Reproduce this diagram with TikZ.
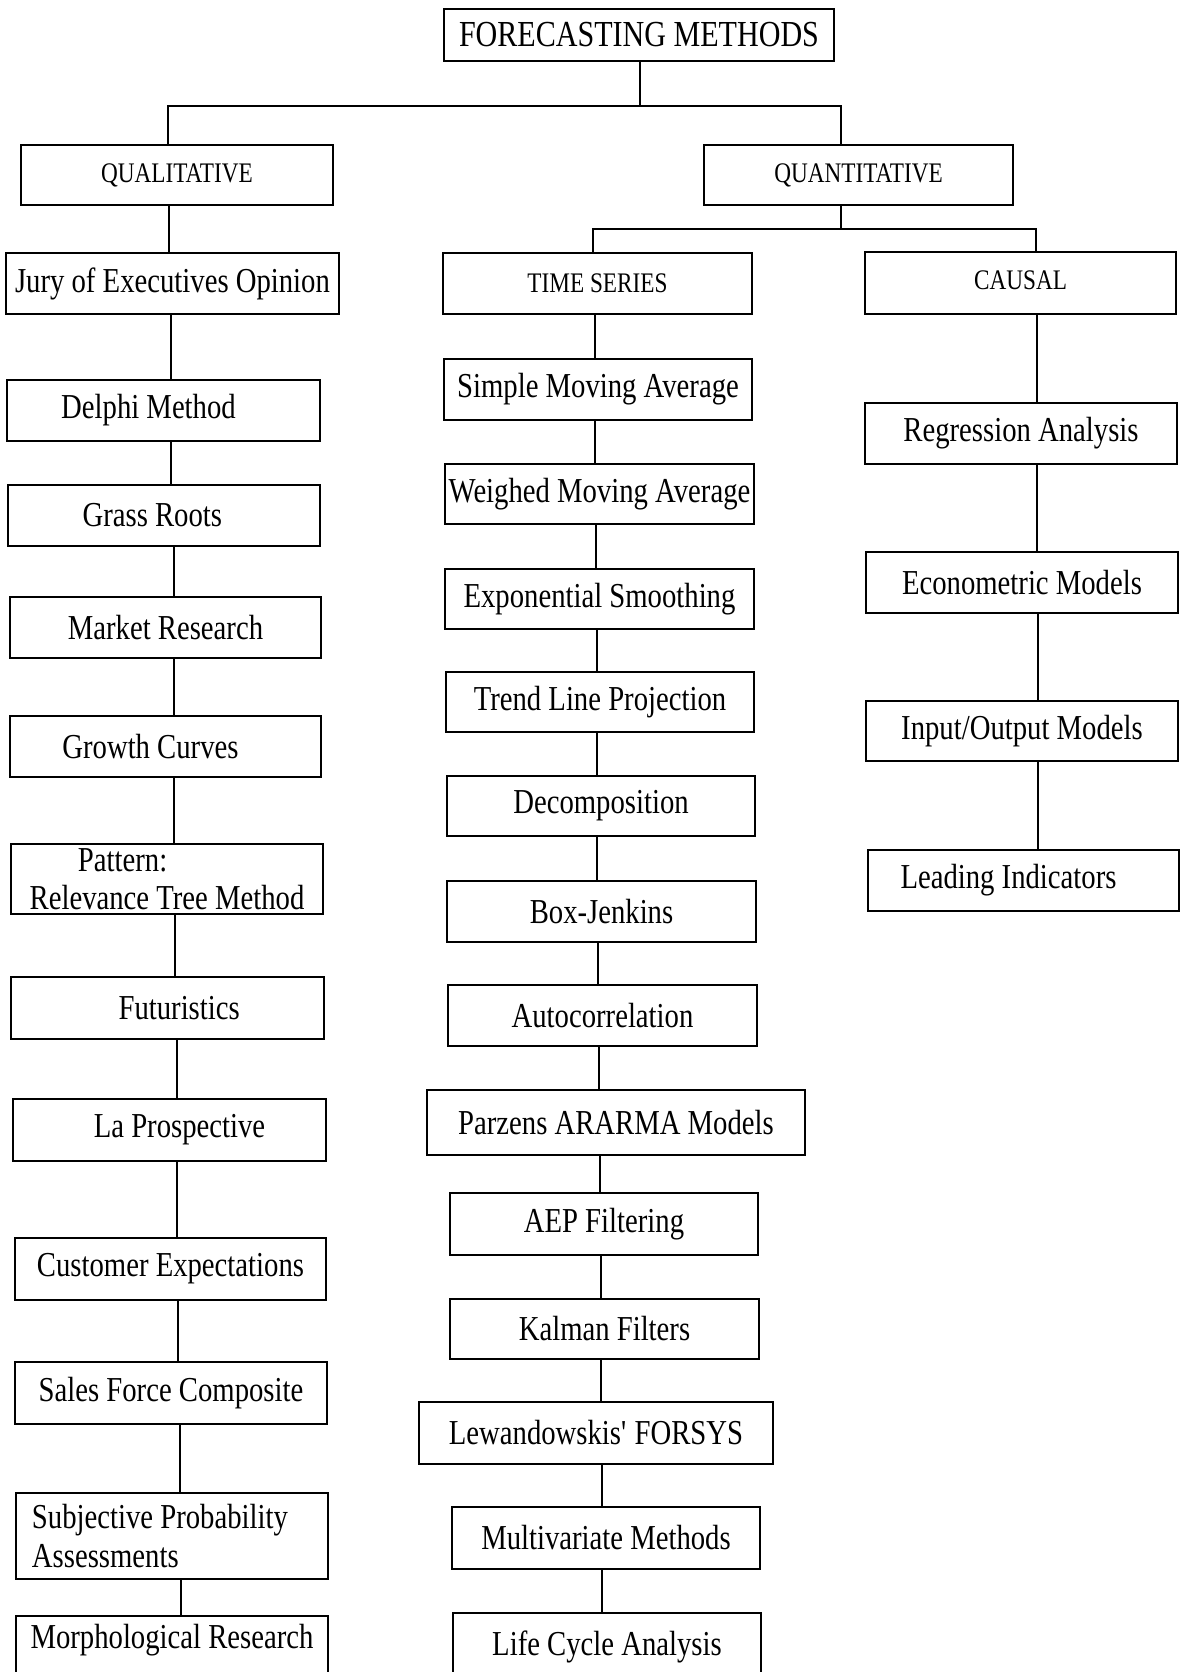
\documentclass[tikz,border=0pt]{standalone}
\usepackage{fontspec}
\setmainfont{Liberation Serif}[FakeStretch=0.82]
\begin{document}
\begin{tikzpicture}[x=0.6pt,y=-0.6pt,
  box/.style={draw,line width=1.2pt,inner sep=0pt,font=\fontsize{21}{23}\selectfont},
  capbox/.style={box,font=\fontsize{17}{19}\selectfont},
  conn/.style={line width=1.2pt},
  lbl/.style={inner sep=0pt,font=\fontsize{21}{23}\selectfont}]
\newcommand\bx[7][box]{\node[#1,minimum width={(#5-#3)*0.6pt},minimum height={(#6-#4)*0.6pt}] (#2) at ({(#3+#5)/2},{(#4+#6)/2}) {#7};}
\newcommand\lk[3]{\coordinate (x#1#2) at (#3,0); \draw[conn] (#1.south -| x#1#2) -- (#2.north -| x#1#2);}
\useasboundingbox (0,0) rectangle (1183,1672);
\clip (0,0) rectangle (1183,1672);
\fill[white] (0,0) rectangle (1183,1672);
% top
\bx[capbox,font=\fontsize{22}{24}\selectfont]{fm}{444}{9}{834}{61}{FORECASTING METHODS}
\bx[capbox]{qual}{21}{145}{333}{205}{QUALITATIVE}
\bx[capbox]{quant}{704}{145}{1013}{205}{QUANTITATIVE}
\bx[capbox]{ts}{443}{253}{752}{314}{TIME SERIES}
\bx[capbox]{causal}{865}{252}{1176}{314}{\raisebox{3pt}{CAUSAL}}
\coordinate (j0) at (640,106);
\coordinate (ja) at (168,106);
\coordinate (jb) at (841,106);
\draw[conn] (fm.south -| j0) -- (j0);
\draw[conn] (qual.north -| ja) -- (ja) -- (jb) -- (quant.north -| jb);
\coordinate (jq) at (841,229);
\coordinate (jc) at (593,229);
\coordinate (jd) at (1036,229);
\draw[conn] (quant.south -| jq) -- (jq);
\draw[conn] (ts.north -| jc) -- (jc) -- (jd) -- (causal.north -| jd);
% left column
\bx{jury}{6}{253}{339}{314}{Jury of Executives Opinion}
\bx{delphi}{7}{380}{320}{441}{\hspace*{-18pt}Delphi Method}
\bx{grass}{8}{485}{320}{546}{\hspace*{-14pt}Grass Roots}
\bx{market}{10}{597}{321}{658}{Market Research}
\bx{growth}{10}{716}{321}{777}{\hspace*{-18pt}Growth Curves}
\bx[box,align=left]{pattern}{11}{844}{323}{914}{\hspace*{29pt}Pattern:\\Relevance Tree Method}
\bx{futur}{11}{977}{324}{1039}{\hspace*{14pt}Futuristics}
\bx{lapro}{13}{1099}{326}{1161}{\hspace*{12pt}La Prospective}
\bx{cust}{15}{1238}{326}{1300}{Customer Expectations}
\bx{sales}{15}{1362}{327}{1424}{Sales Force Composite}
\bx[box,align=left]{subj}{16}{1493}{328}{1579}{Subjective Probability\\Assessments\hspace*{80pt}}
\bx{morph}{16}{1616}{328}{1700}{}
\node[lbl] (morphtxt) at (172,1640) {Morphological Research};
\lk{qual}{jury}{169}
\lk{jury}{delphi}{171}
\lk{delphi}{grass}{171}
\lk{grass}{market}{174}
\lk{market}{growth}{174}
\lk{growth}{pattern}{174}
\lk{pattern}{futur}{175}
\lk{futur}{lapro}{177}
\lk{lapro}{cust}{177}
\lk{cust}{sales}{178}
\lk{sales}{subj}{180}
\lk{subj}{morph}{181}
% middle column
\bx{sma}{444}{359}{752}{420}{Simple Moving Average}
\bx{wma}{445}{464}{754}{524}{Weighed Moving Average}
\bx{expo}{445}{569}{754}{629}{Exponential Smoothing}
\bx{trend}{446}{672}{754}{732}{Trend Line Projection}
\bx{decomp}{447}{776}{755}{836}{Decomposition}
\bx{boxj}{447}{881}{756}{942}{Box-Jenkins}
\bx{auto}{448}{985}{757}{1046}{Autocorrelation}
\bx{parz}{427}{1090}{805}{1155}{Parzens ARARMA Models}
\bx{aep}{450}{1193}{758}{1255}{AEP Filtering}
\bx{kalman}{450}{1299}{759}{1359}{Kalman Filters}
\bx{lew}{419}{1402}{773}{1464}{Lewandowskis\textquotesingle{} FORSYS}
\bx{multi}{452}{1507}{760}{1569}{Multivariate Methods}
\bx{life}{453}{1613}{761}{1700}{}
\node[lbl] (lifetxt) at (607,1647) {Life Cycle Analysis};
\lk{ts}{sma}{595}
\lk{sma}{wma}{595}
\lk{wma}{expo}{596}
\lk{expo}{trend}{597}
\lk{trend}{decomp}{597}
\lk{decomp}{boxj}{597}
\lk{boxj}{auto}{598}
\lk{auto}{parz}{599}
\lk{parz}{aep}{600}
\lk{aep}{kalman}{601}
\lk{kalman}{lew}{601}
\lk{lew}{multi}{602}
\lk{multi}{life}{602}
% right column
\bx{regr}{865}{403}{1177}{464}{Regression Analysis}
\bx{econ}{866}{552}{1178}{613}{Econometric Models}
\bx{io}{866}{701}{1178}{761}{Input/Output Models}
\bx{lead}{868}{850}{1179}{911}{\hspace*{-18pt}Leading Indicators}
\lk{causal}{regr}{1037}
\lk{regr}{econ}{1037}
\lk{econ}{io}{1038}
\lk{io}{lead}{1038}
\end{tikzpicture}
\end{document}
